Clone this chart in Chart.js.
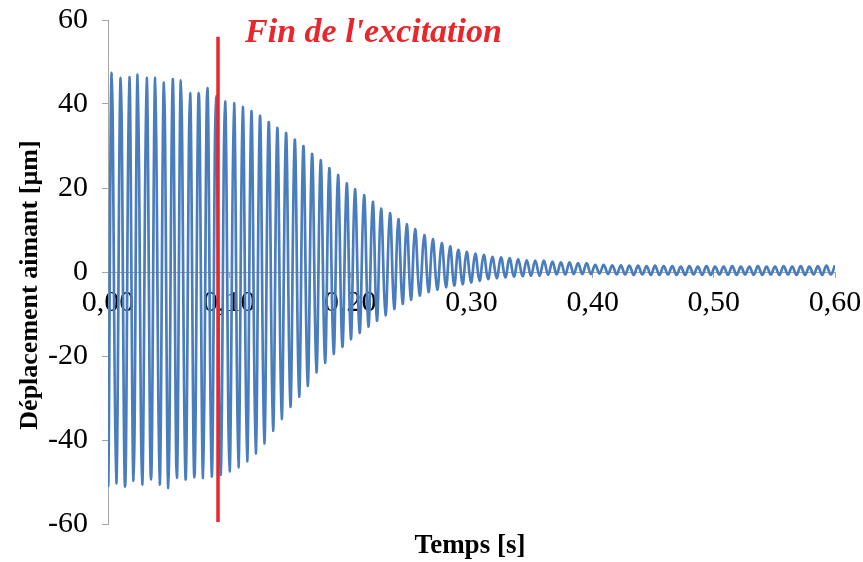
<!DOCTYPE html>
<html>
<head>
<meta charset="utf-8">
<script src="https://cdn.jsdelivr.net/npm/chart.js@4.4.0/dist/chart.umd.min.js"></script>
<style>
html,body{margin:0;padding:0;background:#fff;}
</style>
</head>
<body>
<canvas id="chart" width="863" height="562"></canvas>
<script>
// ====================================
// DATA
// ====================================

// signal start at t = 0
const startTime = 0;
const startValue = -13;

// times of the maxima [s]
const peakTimes = [
    0.0031, 0.0105, 0.0176, 0.0245, 0.0319, 0.0390, 0.0462, 0.0534, 0.0602, 0.0677,
    0.0749, 0.0820, 0.0891, 0.0966, 0.1040, 0.1112, 0.1183, 0.1254, 0.1326, 0.1397,
    0.1469, 0.1541, 0.1612, 0.1684, 0.1755, 0.1826, 0.1898, 0.1970, 0.2038, 0.2113,
    0.2185, 0.2253, 0.2327, 0.2396, 0.2465, 0.2534, 0.2610, 0.2680, 0.2754, 0.2823,
    0.2891, 0.2960, 0.3031, 0.3101, 0.3172, 0.3243, 0.3314, 0.3385, 0.3456, 0.3526,
    0.3597, 0.3668, 0.3738, 0.3809, 0.3879, 0.3950, 0.4021, 0.4091, 0.4162, 0.4233,
    0.4303, 0.4374, 0.4445, 0.4515, 0.4586, 0.4657, 0.4727, 0.4798, 0.4868, 0.4939,
    0.5010, 0.5081, 0.5152, 0.5223, 0.5293, 0.5364, 0.5435, 0.5505, 0.5576, 0.5647,
    0.5717, 0.5788, 0.5859, 0.5929, 0.6000
];

// maxima [µm]
const peakValues = [
    47.4, 46.2, 46.4, 47.0, 46.2, 46.2, 45.1, 45.9, 45.6, 42.6,
    42.6, 43.8, 41.8, 40.6, 40.2, 39.3, 38.3, 37.2, 35.7, 34.3,
    33.1, 31.5, 30.0, 28.1, 26.6, 24.7, 23.1, 21.1, 19.7, 18.3,
    16.7, 15.1, 14.0, 12.6, 11.4, 10.2, 8.8, 7.8, 6.9, 6.1,
    5.3, 4.8, 4.4, 4.1, 3.6, 3.5, 3.3, 3.1, 2.8, 2.7,
    2.7, 2.5, 2.3, 2.3, 2.1, 2.1, 1.7, 1.7, 1.6, 1.6,
    1.5, 1.5, 1.4, 1.5, 1.4, 1.4, 1.3, 1.4, 1.3, 1.4,
    1.3, 1.3, 1.4, 1.3, 1.3, 1.4, 1.3, 1.3, 1.4, 1.3,
    1.4, 1.3, 1.4, 1.5, 1.6
];

// times of the minima [s]
const troughTimes = [
    0.0003, 0.0068, 0.0141, 0.0211, 0.0282, 0.0355, 0.0426, 0.0498, 0.0568, 0.0640,
    0.0713, 0.0785, 0.0856, 0.0929, 0.1003, 0.1076, 0.1148, 0.1219, 0.1290, 0.1362,
    0.1433, 0.1505, 0.1577, 0.1648, 0.1720, 0.1791, 0.1862, 0.1934, 0.2004, 0.2076,
    0.2149, 0.2219, 0.2290, 0.2362, 0.2431, 0.2500, 0.2572, 0.2645, 0.2717, 0.2789,
    0.2857, 0.2926, 0.2996, 0.3066, 0.3137, 0.3208, 0.3279, 0.3350, 0.3421, 0.3491,
    0.3562, 0.3633, 0.3703, 0.3774, 0.3844, 0.3915, 0.3986, 0.4056, 0.4127, 0.4198,
    0.4268, 0.4339, 0.4410, 0.4480, 0.4551, 0.4622, 0.4692, 0.4763, 0.4833, 0.4904,
    0.4975, 0.5046, 0.5117, 0.5188, 0.5258, 0.5329, 0.5400, 0.5470, 0.5541, 0.5612,
    0.5682, 0.5753, 0.5824, 0.5894, 0.5965
];

// minima [µm]
const troughValues = [
    -49.9, -50.3, -51.1, -49.7, -50.6, -49.4, -50.6, -51.4, -49.0, -49.4,
    -48.9, -49.0, -48.7, -48.3, -47.5, -46.5, -45.1, -43.2, -40.8, -37.8,
    -35.0, -32.1, -29.7, -27.1, -23.9, -21.6, -19.5, -17.8, -16.0, -14.5,
    -13.0, -11.6, -10.3, -8.8, -7.6, -6.6, -5.6, -4.8, -4.2, -3.6,
    -3.2, -2.9, -2.5, -2.1, -1.7, -1.5, -1.3, -1.1, -1.0, -0.9,
    -0.9, -0.7, -0.6, -0.6, -0.5, -0.5, -0.5, -0.4, -0.5, -0.6,
    -0.6, -0.7, -0.6, -0.7, -0.7, -0.6, -0.7, -0.7, -0.6, -0.7,
    -0.7, -0.6, -0.7, -0.7, -0.6, -0.7, -0.7, -0.6, -0.7, -0.6,
    -0.7, -0.7, -0.6, -0.7, -0.6
];

// end of excitation marker
const exciteTime = 0.0908;
const exciteRange = [56, -59.5];

// axes
const xTicks = [0, 0.1, 0.2, 0.3, 0.4, 0.5, 0.6];
const xTickLabels = ['0,00', '0,10', '0,20', '0,30', '0,40', '0,50', '0,60'];
const yTicks = [-60, -40, -20, 0, 20, 40, 60];
const yTickLabels = ['-60', '-40', '-20', '0', '20', '40', '60'];

const xTitle = 'Temps [s]';
const yTitle = 'Déplacement aimant [µm]';
const exciteLabel = "Fin de l'excitation";

// ====================================
// BUILD SERIES
// ====================================

const signal = [{ x: startTime, y: startValue }];

troughTimes.forEach((t, i) => {
    signal.push({ x: t, y: troughValues[i] });
    signal.push({ x: peakTimes[i], y: peakValues[i] });
});

const exciteLine = exciteRange.map(v => ({ x: exciteTime, y: v }));

// ====================================
// TEXTS
// ====================================

const serif = '"Liberation Serif", "Times New Roman", serif';

const textPlugin = {
    id: 'textPlugin',
    afterDraw(chart){
        const ctx = chart.ctx;
        const xs = chart.scales.x;

        ctx.save();

        // x title
        ctx.fillStyle = '#000';
        ctx.font = 'bold 27px ' + serif;
        ctx.textAlign = 'center';
        ctx.textBaseline = 'alphabetic';
        ctx.fillText(xTitle, 470, 553);

        // red label
        ctx.fillStyle = '#e8262c';
        ctx.font = 'italic bold 34px ' + serif;
        ctx.textAlign = 'left';
        ctx.fillText(exciteLabel, xs.getPixelForValue(exciteTime) + 27, 42);

        // y title
        ctx.fillStyle = '#000';
        ctx.translate(30, 285);
        ctx.rotate(-Math.PI / 2);
        ctx.font = 'bold 26px ' + serif;
        ctx.textAlign = 'center';
        ctx.textBaseline = 'middle';
        ctx.fillText(yTitle, 0, 0);

        ctx.restore();
    }
};

// ====================================
// CHART
// ====================================

const axisGrey = '#a6a6a6';

const ctxChart = document.getElementById('chart').getContext('2d');
const chart = new Chart(ctxChart, {
    type: 'line',
    data: {
        datasets: [
            {
                label: exciteLabel,
                data: exciteLine,
                borderColor: '#e8262c',
                borderWidth: 3.5,
                pointRadius: 0,
                tension: 0
            },
            {
                label: yTitle,
                data: signal,
                borderColor: '#4a7dbd',
                borderWidth: 2.7,
                borderJoinStyle: 'round',
                pointRadius: 0,
                tension: 0.4
            }
        ]
    },
    options: {
        responsive: false,
        animation: false,
        layout: {
            padding: { left: 0, right: 28, top: 20, bottom: 38 }
        },
        plugins: {
            legend: { display: false },
            tooltip: { enabled: false }
        },
        scales: {
            x: {
                type: 'linear',
                position: { y: 0 },
                min: 0,
                max: 0.6,
                afterBuildTicks: s => { s.ticks = xTicks.map(v => ({ value: v })); },
                afterFit: s => {
                    s.paddingLeft = 0;
                    s.paddingRight = 0;
                },
                ticks: {
                    callback: (v, i) => xTickLabels[i],
                    font: { family: serif, size: 30 },
                    color: '#000',
                    padding: 8,
                    maxRotation: 0,
                    autoSkip: false
                },
                grid: { drawOnChartArea: false, tickLength: 5, color: axisGrey },
                border: { color: axisGrey, width: 1 }
            },
            y: {
                type: 'linear',
                min: -60,
                max: 60,
                afterBuildTicks: s => { s.ticks = yTicks.map(v => ({ value: v })); },
                afterFit: s => {
                    s.width = 108;
                    s.paddingTop = 10;
                    s.paddingBottom = 10;
                },
                ticks: {
                    callback: (v, i) => yTickLabels[i],
                    font: { family: serif, size: 30 },
                    color: '#000',
                    padding: 14
                },
                grid: { drawOnChartArea: false, tickLength: 6, color: axisGrey },
                border: { color: axisGrey, width: 1 }
            }
        }
    },
    plugins: [textPlugin]
});
</script>
</body>
</html>
